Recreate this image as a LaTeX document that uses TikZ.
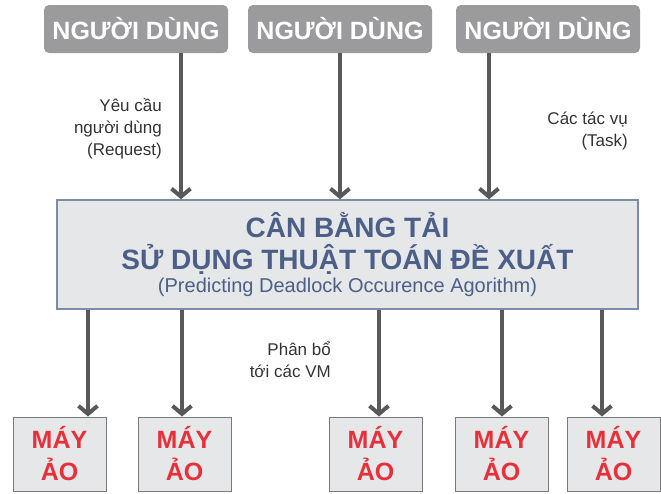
\documentclass[tikz,border=0pt]{standalone}
\usepackage{fontspec}
\setmainfont{Liberation Sans}
\usetikzlibrary{arrows.meta}
\definecolor{userfill}{HTML}{9B9B9D}
\definecolor{corefill}{HTML}{E6E7E9}
\definecolor{coreline}{HTML}{7D8AA8}
\definecolor{coretext}{HTML}{4B5F88}
\definecolor{vmred}{HTML}{E8303A}
\definecolor{vmline}{HTML}{7A7A7C}
\definecolor{arrowgray}{HTML}{58595B}
\definecolor{labeltext}{HTML}{333335}
\tikzset{
  userbox/.style={draw=none, fill=userfill, rounded corners=5pt,
    minimum width=184pt, minimum height=48pt, inner sep=0pt,
    text=white, font=\fontsize{25}{27}\selectfont\bfseries},
  corebox/.style={draw=coreline, line width=1.5pt, fill=corefill,
    minimum width=581pt, minimum height=109pt, inner sep=0pt},
  vmbox/.style={draw=vmline, line width=1pt, fill=corefill,
    minimum width=93pt, minimum height=74pt, inner sep=0pt,
    text=vmred, align=center,
    font=\fontsize{25}{32}\selectfont\bfseries},
  flow/.style={draw=arrowgray, line width=4.5pt,
    -{Straight Barb[length=8pt,width=19pt,line width=4pt]}},
  note/.style={inner sep=0pt, align=right, text=labeltext,
    font=\fontsize{17}{22}\selectfont},
}
\begin{document}
\begin{tikzpicture}[x=1pt,y=-1pt]
\useasboundingbox (0,0) rectangle (661,493);

% users
\node[userbox] (u1) at (136,29) {NGƯỜI DÙNG};
\node[userbox] (u2) at (340,29) {NGƯỜI DÙNG};
\node[userbox] (u3) at (548,29) {NGƯỜI DÙNG};

% load balancer
\node[corebox] (lb) at (347.5,254.5) {};
\node[text=coretext, align=center, inner sep=0pt,
  font=\fontsize{28}{32}\selectfont\bfseries] (title) at (347.5,243)
  {CÂN BẰNG TẢI\\SỬ DỤNG THUẬT TOÁN ĐỀ XUẤT};
\node[text=coretext, inner sep=0pt, font=\fontsize{20}{22}\selectfont]
  (sub) at (347.5,287) {(Predicting Deadlock Occurence Agorithm)};

% virtual machines
\node[vmbox] (m1) at (59.5,454) {MÁY\\ẢO};
\node[vmbox] (m2) at (184.5,454) {MÁY\\ẢO};
\node[vmbox] (m3) at (375.5,454) {MÁY\\ẢO};
\node[vmbox] (m4) at (501.5,454) {MÁY\\ẢO};
\node[vmbox] (m5) at (613.5,454) {MÁY\\ẢO};

% requests coming in
\draw[flow] (u1.south -| 181,0) -- (lb.north -| 181,0);
\draw[flow] (u2.south -| 340,0) -- (lb.north -| 340,0);
\draw[flow] (u3.south -| 489,0) -- (lb.north -| 489,0);

% dispatch to the machines
\draw[flow] (lb.south -| 88,0)  -- (m1.north -| 88,0);
\draw[flow] (lb.south -| 182,0) -- (m2.north -| 182,0);
\draw[flow] (lb.south -| 379,0) -- (m3.north -| 379,0);
\draw[flow] (lb.south -| 502,0) -- (m4.north -| 502,0);
\draw[flow] (lb.south -| 602,0) -- (m5.north -| 602,0);

% labels
\node[note, anchor=north east] (lreq) at (162,98) {Yêu cầu\\người dùng\\(Request)};
\node[note, anchor=north east] (ltask) at (628,112) {Các tác vụ\\(Task)};
\node[note, anchor=north east] (lvm) at (331,342) {Phân bổ\\tới các VM};
\end{tikzpicture}
\end{document}
